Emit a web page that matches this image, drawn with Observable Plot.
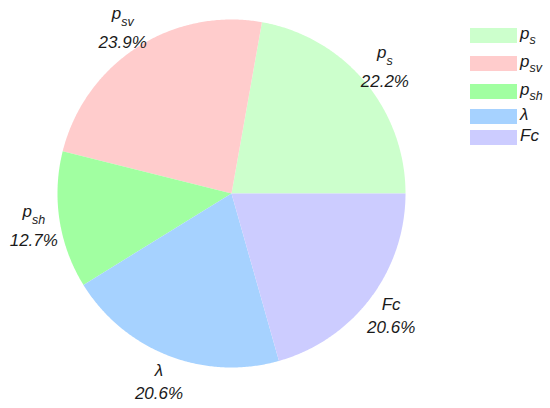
<!DOCTYPE html>
<html>
<head>
<meta charset="utf-8">
<script src="https://cdn.jsdelivr.net/npm/d3@7"></script>
<script src="https://cdn.jsdelivr.net/npm/@observablehq/plot@0.6"></script>
<style>
  html, body { margin: 0; padding: 0; background: #fff; }
  #wrap { position: relative; width: 550px; height: 408px; font-family: "Liberation Sans", Arial, sans-serif; }
  #wrap svg { display: block; }
  #legend { position: absolute; left: 470px; top: 0; width: 80px; height: 160px; font-style: italic; font-size: 17px; color: #1a1a1a; }
  .entry { position: absolute; left: 0; width: 80px; }
  .sw { position: absolute; left: 0; width: 47px; height: 15px; }
  .lab { position: absolute; left: 50px; white-space: nowrap; line-height: 16px; }
  .lab sub { font-size: 12.5px; vertical-align: baseline; position: relative; top: 5px; }
</style>
</head>
<body>
<div id="wrap"><div id="legend"></div></div>
<script>
// ---- data ----
const keys = ["ps", "psv", "psh", "lambda", "Fc"];
const baseNames = ["p", "p", "p", "λ", "Fc"];
const subNames = ["s", "sv", "sh", "", ""];
const percents = [22.2, 23.9, 12.7, 20.6, 20.6];
const colors = ["#ccffcc", "#ffcccc", "#a1ffa1", "#a6d2ff", "#ccccff"];

// ---- layout ----
const W = 550, H = 408;
const cx = 231, cy = 193, R = 174;   // pie centre and radius in pixels
const labelR = 1.15;                 // label radius relative to R

// build slice polygons in unit coordinates (y up), counter-clockwise from 3 o'clock
const total = d3.sum(percents);
let cum = 0;
const slices = [];
const labels = [];
percents.forEach((p, i) => {
  const a0 = cum / total * 2 * Math.PI;
  cum += p;
  const a1 = cum / total * 2 * Math.PI;
  const n = Math.max(2, Math.ceil((a1 - a0) / (Math.PI / 360)));
  slices.push({key: keys[i], x: 0, y: 0});
  for (let k = 0; k <= n; k++) {
    const a = a0 + (a1 - a0) * k / n;
    slices.push({key: keys[i], x: Math.cos(a), y: Math.sin(a)});
  }
  slices.push({key: keys[i], x: 0, y: 0});
  const am = (a0 + a1) / 2;
  labels.push({key: keys[i], base: baseNames[i], sub: subNames[i],
               pct: d3.format(".1f")(p) + "%",
               x: labelR * Math.cos(am), y: labelR * Math.sin(am)});
});
const subLabels = labels.filter(d => d.sub);
const plainLabels = labels.filter(d => !d.sub);

const textOpts = {x: "x", y: "y", lineAnchor: "bottom", fontSize: 17, fontStyle: "italic",
                  fill: "#1a1a1a", textAnchor: "middle"};

const chart = Plot.plot({
  width: W, height: H,
  margin: 0,
  x: {domain: [-cx / R, (W - cx) / R], axis: null},
  y: {domain: [-(H - cy) / R, cy / R], axis: null},
  color: {domain: keys, range: colors},
  style: {fontFamily: "'Liberation Sans', Arial, sans-serif", background: "#fff"},
  marks: [
    Plot.line(slices, {x: "x", y: "y", z: "key", fill: "key", stroke: "none", curve: "linear"}),
    Plot.text(subLabels, {...textOpts, text: "base", dy: -7}),
    Plot.text(subLabels, {...textOpts, text: "pct", dy: 22}),
    Plot.text(plainLabels, {...textOpts, text: "base", dy: -4}),
    Plot.text(plainLabels, {...textOpts, text: "pct", dy: 19})
  ]
});

// add subscripts to the subscripted name labels (first text mark)
const textGroups = chart.querySelectorAll('g[aria-label="text"]');
d3.select(textGroups[0]).selectAll("text").each(function(_, j) {
  const s = subLabels[j].sub;
  const t = d3.select(this);
  const base = t.text();
  t.text(null);
  t.append("tspan").text(base);
  t.append("tspan").attr("font-size", 12.5).attr("dy", 7).text(s);
});

document.getElementById("wrap").insertBefore(chart, document.getElementById("legend"));

// legend
const legendDiv = d3.select("#legend");
let entryTop = 21.5;
keys.forEach((k, i) => {
  const h = subNames[i] ? 28 : 21;
  const e = legendDiv.append("div").attr("class", "entry").style("top", entryTop + "px").style("height", h + "px");
  e.append("div").attr("class", "sw").style("top", (h - 15) / 2 + "px").style("background", colors[i]);
  const lab = e.append("div").attr("class", "lab").style("top", (h - 15) / 2 - 2 + "px");
  lab.append("span").text(baseNames[i]);
  if (subNames[i]) lab.append("sub").text(subNames[i]);
  entryTop += h;
});
</script>
</body>
</html>
